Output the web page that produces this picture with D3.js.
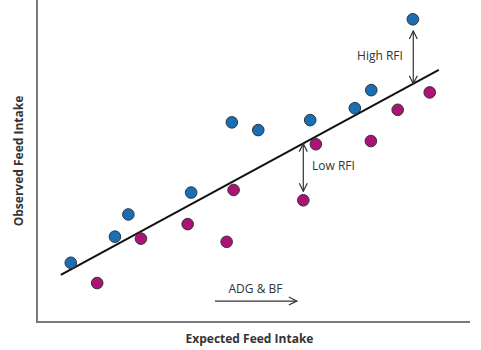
<!DOCTYPE html>
<html>
<head>
<meta charset="utf-8">
<script src="https://cdn.jsdelivr.net/npm/d3@7"></script>
<style>
  body { margin: 0; background: #fff; }
  text { font-family: "Open Sans", sans-serif; fill: #333; }
</style>
</head>
<body>
<div id="canvas"></div>
<script>
"use strict"
let svgWidth = 481;
let svgHeight = 350;

// expected (x) and observed (y) feed intake, arbitrary units 0-100
let blueX = [7.8, 18.0, 21.1, 35.6, 45.0, 51.1, 63.1, 73.4, 77.2, 86.8];
let blueY = [18.4, 26.5, 33.4, 40.2, 62.0, 59.6, 62.7, 66.4, 72.0, 94.0];
let magentaX = [13.9, 24.0, 34.8, 43.8, 45.4, 61.5, 64.4, 77.1, 83.3, 90.7];
let magentaY = [12.1, 25.9, 30.4, 24.9, 41.0, 37.8, 55.2, 56.2, 65.9, 71.3];

// regression line end points
let lineX = [5.5, 92.8];
let lineY = [14.6, 78.3];

// RFI arrows: x, from y, to y
let lowArrow = [61.5, 55.4, 40.6];
let highArrow = [86.9, 74.0, 90.4];
// ADG & BF arrow: from x, to x, y
let adgArrow = [41.1, 60.0, 6.5];

let svg = d3.select("#canvas")
    .append("svg")
    .attr("width", svgWidth)
    .attr("height", svgHeight);

let xScale = d3.scaleLinear().domain([0, 100]).range([37, 470]);
let yScale = d3.scaleLinear().domain([0, 100]).range([322, 0]);

// open arrow head
let defs = svg.append("defs");
defs.append("marker")
    .attr("id", "head")
    .attr("viewBox", "0 0 10 10")
    .attr("refX", 9)
    .attr("refY", 5)
    .attr("markerWidth", 10)
    .attr("markerHeight", 10)
    .attr("markerUnits", "userSpaceOnUse")
    .attr("orient", "auto-start-reverse")
    .append("path")
    .attr("d", "M1,1 L9,5 L1,9")
    .attr("fill", "none")
    .attr("stroke", "#333")
    .attr("stroke-width", 1.2);

// axes
svg.append("path")
    .attr("d", "M" + xScale(0) + "," + 0 + " V" + yScale(0) + " H" + xScale(100))
    .attr("fill", "none")
    .attr("stroke", "#7a7a7a")
    .attr("stroke-width", 2);

// trend line
svg.append("line")
    .attr("x1", xScale(lineX[0]))
    .attr("y1", yScale(lineY[0]))
    .attr("x2", xScale(lineX[1]))
    .attr("y2", yScale(lineY[1]))
    .attr("stroke", "#111")
    .attr("stroke-width", 2);

// RFI arrows
[lowArrow, highArrow].forEach(function(a) {
    svg.append("line")
        .attr("x1", xScale(a[0]))
        .attr("y1", yScale(a[1]))
        .attr("x2", xScale(a[0]))
        .attr("y2", yScale(a[2]))
        .attr("stroke", "#333")
        .attr("stroke-width", 1.2)
        .attr("marker-start", "url(#head)")
        .attr("marker-end", "url(#head)");
});

svg.append("line")
    .attr("x1", xScale(adgArrow[0]))
    .attr("y1", yScale(adgArrow[2]))
    .attr("x2", xScale(adgArrow[1]))
    .attr("y2", yScale(adgArrow[2]))
    .attr("stroke", "#333")
    .attr("stroke-width", 1.2)
    .attr("marker-end", "url(#head)");

// points
let points = [];
for (let i = 0; i < blueX.length; i++) {
    points.push({x: blueX[i], y: blueY[i], color: "#1a6fb4"});
}
for (let i = 0; i < magentaX.length; i++) {
    points.push({x: magentaX[i], y: magentaY[i], color: "#ad1277"});
}

svg.selectAll("circle")
    .data(points)
    .join("circle")
    .attr("cx", function(d) { return xScale(d.x); })
    .attr("cy", function(d) { return yScale(d.y); })
    .attr("r", 5.8)
    .attr("fill", function(d) { return d.color; })
    .attr("stroke", "#333")
    .attr("stroke-width", 1);

// labels
svg.append("text")
    .attr("x", 380)
    .attr("y", 57)
    .attr("text-anchor", "middle")
    .attr("dominant-baseline", "middle")
    .attr("font-size", 12)
    .text("High RFI");

svg.append("text")
    .attr("x", 312)
    .attr("y", 167)
    .attr("text-anchor", "start")
    .attr("dominant-baseline", "middle")
    .attr("font-size", 12)
    .text("Low RFI");

svg.append("text")
    .attr("x", 255.5)
    .attr("y", 290)
    .attr("text-anchor", "middle")
    .attr("dominant-baseline", "middle")
    .attr("font-size", 12)
    .text("ADG & BF");

svg.append("text")
    .attr("x", 249.5)
    .attr("y", 340)
    .attr("text-anchor", "middle")
    .attr("dominant-baseline", "middle")
    .attr("font-size", 12)
    .attr("font-weight", "bold")
    .text("Expected Feed Intake");

svg.append("text")
    .attr("transform", "translate(20,161) rotate(-90)")
    .attr("text-anchor", "middle")
    .attr("dominant-baseline", "middle")
    .attr("font-size", 12)
    .attr("font-weight", "bold")
    .text("Observed Feed Intake");
</script>
</body>
</html>
